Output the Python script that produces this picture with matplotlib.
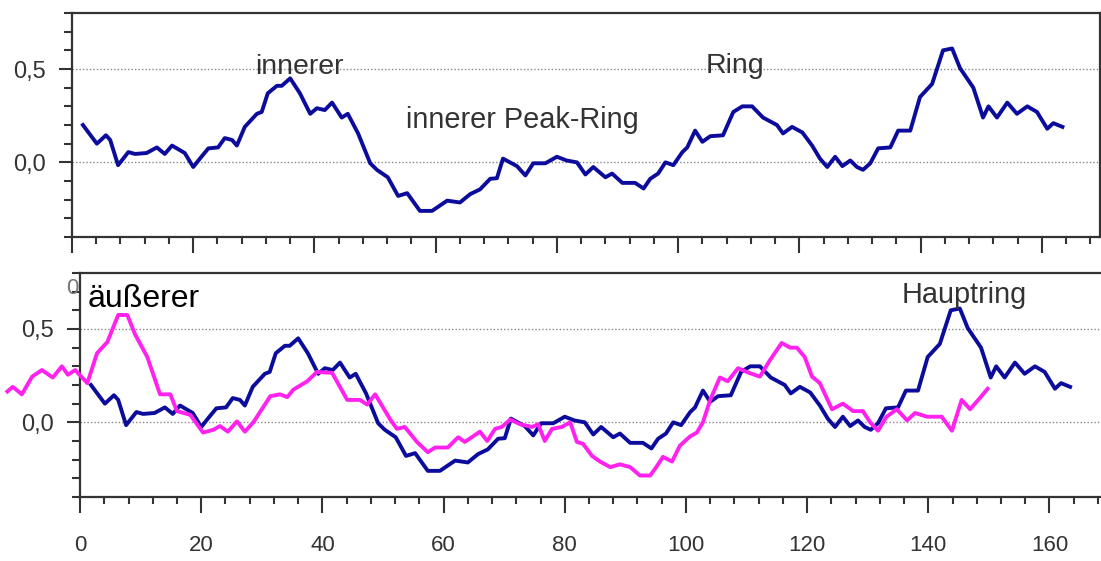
import numpy as np
import matplotlib
matplotlib.use('Agg')
import matplotlib.pyplot as plt
from matplotlib.ticker import MultipleLocator

plt.rcParams['font.family'] = ['Liberation Sans', 'DejaVu Sans']

# profile along the crater (blue), same curve in both panels
blue_x = [1.8, 4.1, 5.6, 6.3, 7.6, 9.3, 10.4, 12.3, 14.0, 15.3, 16.5, 18.6, 20.0, 21.1, 22.5,
          24.1, 25.2, 26.4, 27.2, 28.5, 30.5, 31.3, 32.3, 33.8, 34.6, 36.0, 37.6, 39.3, 40.4, 41.7,
          42.9, 44.5, 45.5, 47.2, 49.2, 50.3, 52.1, 53.8, 55.3, 57.4, 59.4, 61.9, 64.0, 65.7, 67.3,
          69.0, 70.1, 71.1, 73.4, 74.8, 76.1, 78.1, 80.0, 81.6, 83.3, 84.7, 86.0, 88.0, 89.1, 90.8,
          92.9, 94.3, 95.4, 96.7, 97.9, 99.2, 100.7, 101.5, 102.8, 104.0, 105.3, 107.4, 109.1, 110.6, 112.2,
          114.0, 116.3, 117.3, 118.8, 120.5, 122.1, 123.4, 124.6, 125.9, 127.1, 128.4, 129.5, 130.5, 131.7, 133.0,
          135.0, 136.3, 138.3, 139.9, 141.9, 143.7, 145.2, 146.5, 148.7, 150.3, 151.2, 152.6, 154.3, 155.9, 157.6,
          159.2, 160.9, 161.9, 163.4]
blue_y = [0.20, 0.10, 0.145, 0.12, -0.015, 0.055, 0.045, 0.05, 0.08, 0.045, 0.09, 0.05, -0.025, 0.02, 0.075,
          0.08, 0.13, 0.12, 0.09, 0.19, 0.26, 0.27, 0.37, 0.41, 0.41, 0.45, 0.37, 0.26, 0.29, 0.28,
          0.32, 0.24, 0.26, 0.155, -0.005, -0.04, -0.08, -0.18, -0.165, -0.26, -0.26, -0.205, -0.215, -0.17, -0.145,
          -0.088, -0.085, 0.02, -0.02, -0.07, -0.005, -0.005, 0.03, 0.01, 0.0, -0.065, -0.025, -0.08, -0.06, -0.11,
          -0.11, -0.14, -0.088, -0.06, 0.0, -0.015, 0.055, 0.08, 0.17, 0.11, 0.14, 0.145, 0.27, 0.30, 0.30,
          0.24, 0.20, 0.155, 0.19, 0.16, 0.09, 0.02, -0.025, 0.03, -0.02, 0.01, -0.025, -0.04, -0.005, 0.075,
          0.08, 0.17, 0.17, 0.35, 0.42, 0.60, 0.61, 0.505, 0.40, 0.24, 0.30, 0.24, 0.32, 0.26, 0.30,
          0.27, 0.18, 0.21, 0.19]

# second profile (magenta), bottom panel only
pink_x = [-12.0, -11.1, -9.6, -7.9, -6.3, -4.5, -3.0, -2.0, -0.8, 1.2, 2.8, 4.5, 6.3, 7.8, 9.1,
          11.1, 13.2, 14.9, 16.0, 18.2, 20.3, 22.0, 23.1, 24.4, 25.9, 27.2, 28.6, 31.4, 33.0, 34.2,
          35.2, 37.5, 39.1, 41.6, 44.1, 46.2, 47.4, 48.7, 50.0, 51.2, 52.3, 53.6, 55.6, 57.4, 58.6,
          60.7, 62.4, 63.5, 66.0, 67.2, 68.5, 69.6, 71.0, 72.6, 74.6, 75.6, 76.7, 77.9, 79.5, 80.9,
          82.0, 83.0, 84.5, 85.8, 87.5, 89.1, 90.8, 92.4, 94.1, 95.2, 96.2, 97.7, 99.0, 100.7, 101.8,
          102.8, 104.0, 105.6, 106.9, 108.6, 110.4, 112.2, 113.9, 115.8, 117.2, 118.3, 119.6, 120.8, 122.1, 124.1,
          125.9, 127.6, 129.2, 130.4, 131.7, 133.1, 134.8, 136.5, 137.8, 139.8, 142.2, 143.9, 145.5, 146.9, 148.5,
          149.8]
pink_y = [0.165, 0.19, 0.15, 0.245, 0.28, 0.24, 0.30, 0.255, 0.28, 0.21, 0.37, 0.43, 0.575, 0.575, 0.47,
          0.35, 0.15, 0.15, 0.06, 0.04, -0.055, -0.04, -0.02, -0.05, 0.005, -0.05, 0.0, 0.14, 0.15, 0.135,
          0.175, 0.22, 0.27, 0.265, 0.12, 0.12, 0.095, 0.15, 0.08, 0.015, -0.035, -0.025, -0.105, -0.16, -0.135,
          -0.135, -0.08, -0.105, -0.05, -0.10, -0.035, -0.025, 0.015, -0.01, -0.025, -0.01, -0.10, -0.035, -0.025, 0.0,
          -0.105, -0.115, -0.18, -0.21, -0.24, -0.225, -0.24, -0.285, -0.285, -0.235, -0.185, -0.21, -0.125, -0.075, -0.055,
          0.0, 0.12, 0.24, 0.22, 0.29, 0.265, 0.245, 0.335, 0.425, 0.40, 0.40, 0.35, 0.245, 0.21, 0.07,
          0.10, 0.06, 0.06, 0.0, -0.045, 0.03, 0.07, 0.01, 0.05, 0.03, 0.03, -0.045, 0.12, 0.07, 0.13,
          0.18]

y_ticks = [0.0, 0.5]
y_ticklabels = ['0,0', '0,5']
x_ticks = [0, 20, 40, 60, 80, 100, 120, 140, 160]

BLUE = '#0c0c9c'
PINK = '#ff22ee'
GREY = '#333333'


def style_axes(ax, xmax, show_xlabels):
    ax.set_xlim(0, xmax)
    ax.set_ylim(-0.4, 0.8)
    for s in ax.spines.values():
        s.set_linewidth(1.6)
        s.set_color(GREY)
    ax.set_yticks(y_ticks)
    ax.set_yticklabels(y_ticklabels)
    ax.yaxis.set_minor_locator(MultipleLocator(0.1))
    ax.set_xticks(x_ticks)
    ax.xaxis.set_minor_locator(MultipleLocator(4))
    ax.tick_params(axis='y', which='major', direction='out', length=9.5, width=1.5,
                   color=GREY, labelsize=17, labelcolor=GREY, pad=9)
    ax.tick_params(axis='y', which='minor', direction='out', length=5.5, width=1.5, color=GREY)
    ax.tick_params(axis='x', which='major', direction='out', length=11.5, width=1.5,
                   color=GREY, labelsize=16, labelcolor=GREY, pad=16,
                   labelbottom=show_xlabels)
    ax.tick_params(axis='x', which='minor', direction='out', length=5, width=1.5, color=GREY)
    # dotted reference lines at 0,0 and 0,5
    for yv in y_ticks:
        ax.axhline(yv, color='#888888', linewidth=1.0, linestyle=(0, (1, 1.5)), zorder=1)


def main():
    fig = plt.figure(figsize=(11.01, 5.61), dpi=100)

    ax1 = fig.add_axes([0.0654, 0.5775, 0.9337, 0.3993])
    ax2 = fig.add_axes([0.0727, 0.1141, 0.9273, 0.3993])

    style_axes(ax1, 169.6, False)
    style_axes(ax2, 168.5, True)
    ax2.spines['right'].set_visible(False)

    ax1.plot(blue_x, blue_y, color=BLUE, linewidth=2.8, zorder=3)
    ax2.plot(blue_x, blue_y, color=BLUE, linewidth=2.8, zorder=3)
    ax2.plot(pink_x, pink_y, color=PINK, linewidth=2.8, zorder=4, clip_on=False)

    # annotations
    ax1.text(37.5, 0.473, 'innerer', fontsize=20.5, color=GREY, ha='center', va='baseline')
    ax1.text(109.4, 0.478, 'Ring', fontsize=20.5, color=GREY, ha='center', va='baseline')
    ax1.text(74.3, 0.183, 'innerer Peak-Ring', fontsize=20.8, color=GREY, ha='center', va='baseline')

    ax2.text(-0.2, 0.69, '0', fontsize=16, color='#777777', ha='right', va='baseline', clip_on=False)
    ax2.text(1.3, 0.62, 'äußerer', fontsize=23, color='black', ha='left', va='baseline')
    ax2.text(145.9, 0.64, 'Hauptring', fontsize=20.8, color=GREY, ha='center', va='baseline')

    fig.savefig('out.png', dpi=100)


if __name__ == "__main__":
    main()
